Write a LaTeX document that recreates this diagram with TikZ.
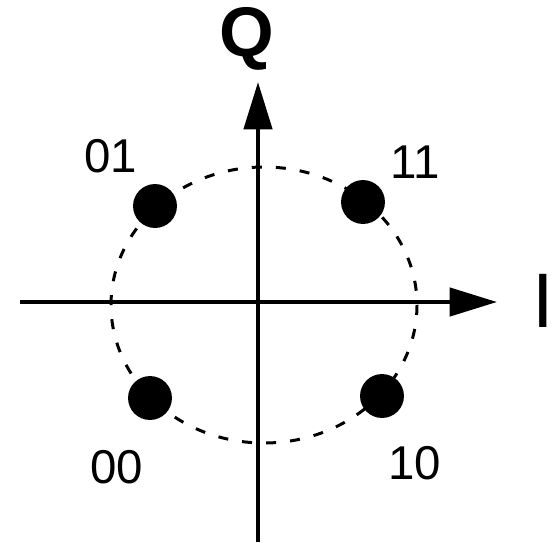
\documentclass[tikz,border=0pt]{standalone}
\usepackage{fontspec}
\setmainfont{Liberation Sans}
\usetikzlibrary{arrows.meta}

\begin{document}
\begin{tikzpicture}[
    x=0.02cm,y=-0.02cm,
    axis/.style={line width=2.5pt,-{Triangle[length=27pt,width=16pt]}},
    sym/.style={circle,fill=black,inner sep=0pt,minimum size=25pt},
    lbl/.style={inner sep=0pt,font=\fontsize{27}{27}\selectfont},
    axlbl/.style={inner sep=0pt,font=\fontsize{40}{40}\selectfont\bfseries}
  ]
    \useasboundingbox (0,0) rectangle (554,542);
    % axes
    \coordinate (xs) at (20,302);
    \coordinate (xe) at (497,302);
    \coordinate (ys) at (258,542);
    \coordinate (ye) at (258,82);
    \draw[axis] (xs) -- (xe);
    \draw[axis] (ys) -- (ye);
    \node[axlbl] (Q) at (247,39) {Q};
    \node[inner sep=0pt,anchor=east,font=\fontsize{44}{44}\selectfont] (I) at (554,301) {I};
    % circle through the points
    \draw[line width=1.7pt,dash pattern=on 5.7pt off 8pt] (264,305) ellipse (153 and 138);
    % constellation points
    \node[sym] (d01) at (155,206) {};
    \node[sym] (d11) at (363,202) {};
    \node[sym] (d00) at (150,398) {};
    \node[sym] (d10) at (382,396) {};
    \node[lbl] (l01) at (111,156) {01};
    \node[lbl] (l11) at (415,162) {11};
    \node[lbl] (l00) at (117,467) {00};
    \node[lbl] (l10) at (415,463) {10};
  \end{tikzpicture}
\end{document}
